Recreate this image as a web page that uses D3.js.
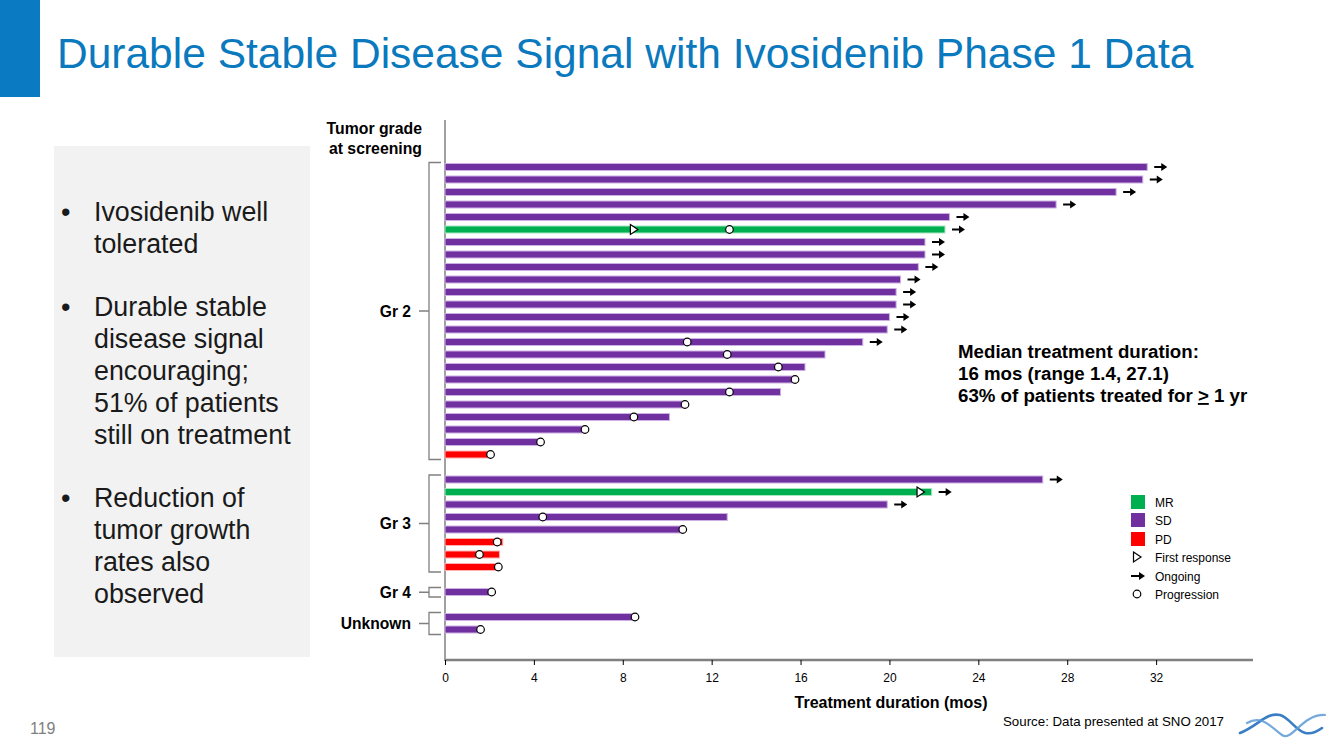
<!DOCTYPE html>
<html>
<head>
<meta charset="utf-8">
<script src="https://cdn.jsdelivr.net/npm/d3@7"></script>
<style>
  html, body { margin: 0; padding: 0; background: #fff; }
  svg { display: block; font-family: "Liberation Sans", Arial, sans-serif; }
</style>
</head>
<body>
<svg id="chart" width="1344" height="756"></svg>
<script>
// ---------------- DATA ----------------
const groups = ["Gr 2", "Gr 3", "Gr 4", "Unknown"];
const groupCounts = [24, 8, 1, 2];
const durations = [31.6, 31.4, 30.2, 27.5, 22.7, 22.5, 21.6, 21.6, 21.3, 20.5, 20.3, 20.3, 20.0, 19.9, 18.8, 17.1, 16.2, 15.8, 15.1, 10.8, 10.1, 6.3, 4.3, 2.0,
                   26.9, 21.9, 19.9, 12.7, 10.7, 2.6, 2.45, 2.45,
                   2.05,
                   8.55, 1.6];
const responses = ["SD","SD","SD","SD","SD","MR","SD","SD","SD","SD","SD","SD","SD","SD","SD","SD","SD","SD","SD","SD","SD","SD","SD","PD",
                   "SD","MR","SD","SD","SD","PD","PD","PD",
                   "SD",
                   "SD","SD"];
const firstResponse = [null,null,null,null,null,8.5,null,null,null,null,null,null,null,null,null,null,null,null,null,null,null,null,null,null,
                       null,21.4,null,null,null,null,null,null,
                       null,
                       null,null];
const ongoing = [1,1,1,1,1,1,1,1,1,1,1,1,1,1,1,0,0,0,0,0,0,0,0,0,
                 1,1,1,0,0,0,0,0,
                 0,
                 0,0];
const progression = [null,null,null,null,null,12.8,null,null,null,null,null,null,null,null,10.9,12.7,15.0,15.75,12.8,10.8,8.5,6.3,4.3,2.05,
                     null,null,null,4.4,10.7,2.35,1.55,2.4,
                     2.1,
                     8.55,1.6];
const xTicks = [0, 4, 8, 12, 16, 20, 24, 28, 32];
const legendItems = ["MR", "SD", "PD", "First response", "Ongoing", "Progression"];
const colors = { MR: "#00b050", SD: "#7030a0", PD: "#ff0000" };
const outline = { MR: "#a8e6c0", SD: "#cdb0e3", PD: "#ffb0b0" };

const bullets = [
  ["Ivosidenib well", "tolerated"],
  ["Durable stable", "disease signal", "encouraging;", "51% of patients", "still on treatment"],
  ["Reduction of", "tumor growth", "rates also", "observed"]
];
const medianLines = ["Median treatment duration:", "16 mos (range 1.4, 27.1)"];
const medianLine3 = ["63% of patients treated for ", ">", " 1 yr"];

// ---------------- BUILD ROWS ----------------
const rows = [];
const slots = [];
let k = 0;
groups.forEach((g, gi) => {
  for (let j = 0; j < groupCounts[gi]; j++) {
    const id = "r" + k;
    rows.push({ id, group: g, dur: durations[k], resp: responses[k], first: firstResponse[k], ongoing: ongoing[k], prog: progression[k] });
    slots.push(id);
    k++;
  }
  if (gi < groups.length - 1) slots.push("gap" + gi);
});

const svg = d3.select("#chart");
const font = '"Liberation Sans", Arial, sans-serif';

// ---------------- SLIDE CHROME ----------------
svg.append("rect").attr("x", 0).attr("y", 0).attr("width", 40).attr("height", 97).attr("fill", "#0a7bc2");
svg.append("text").attr("x", 57).attr("y", 68).attr("font-size", 42.5).attr("fill", "#0a79bd")
  .text("Durable Stable Disease Signal with Ivosidenib Phase 1 Data");

// left panel
svg.append("rect").attr("x", 54).attr("y", 146).attr("width", 256).attr("height", 511).attr("fill", "#f2f2f2");
const bulletStarts = [212, 307, 498];
bullets.forEach((lines, bi) => {
  svg.append("text").attr("x", 61).attr("y", bulletStarts[bi] + 9).attr("font-size", 27).attr("fill", "#1a1a1a").text("\u2022");
  lines.forEach((ln, li) => {
    svg.append("text").attr("x", 94).attr("y", bulletStarts[bi] + 9 + li * 32).attr("font-size", 26.8).attr("fill", "#1a1a1a").text(ln);
  });
});

svg.append("text").attr("x", 30).attr("y", 734).attr("font-size", 16).attr("fill", "#7f7f7f").text("119");
svg.append("text").attr("x", 1003).attr("y", 726).attr("font-size", 13.3).attr("fill", "#000").text("Source: Data presented at SNO 2017");

// logo
const logo = svg.append("g").attr("fill", "none").attr("stroke-linecap", "round");
logo.append("path").attr("d", "M1240,733 C1258,726 1266,712 1280,715 C1294,719 1300,744 1322,728")
  .attr("stroke", "#3a7fc4").attr("stroke-width", 2.6);
logo.append("path").attr("d", "M1247,723 C1262,714 1272,728 1282,735 C1292,742 1302,714 1325,715")
  .attr("stroke", "#5b9bd5").attr("stroke-width", 2.2).attr("opacity", 0.85);

// ---------------- SCALES ----------------
const x = d3.scaleLinear().domain([0, 36.36]).range([445, 1253]);
const y = d3.scalePoint().domain(slots).range([167, 629.5]);

// axes
svg.append("line").attr("x1", 445).attr("x2", 445).attr("y1", 120).attr("y2", 661)
  .attr("stroke", "#808080").attr("stroke-width", 1.5);

const xAxis = d3.axisBottom(x).tickValues(xTicks).tickSize(5).tickPadding(8).tickFormat(d3.format("d"));
const ax = svg.append("g").attr("transform", "translate(0,660)").call(xAxis);
ax.select(".domain").attr("stroke", "#808080").attr("stroke-width", 2.5).attr("d", `M${x(0)},0H${x(36.36)}`);
ax.selectAll(".tick line").attr("stroke", "#000").attr("stroke-width", 1);
ax.selectAll(".tick text").attr("font-size", 12).attr("font-family", font).attr("fill", "#000");

svg.append("text").attr("x", 891).attr("y", 708).attr("text-anchor", "middle").attr("font-size", 16)
  .attr("font-weight", "bold").text("Treatment duration (mos)");

// header "Tumor grade at screening"
svg.append("text").attr("x", 422).attr("y", 134).attr("text-anchor", "end").attr("font-size", 15.8).attr("font-weight", "bold").text("Tumor grade");
svg.append("text").attr("x", 422).attr("y", 154).attr("text-anchor", "end").attr("font-size", 15.8).attr("font-weight", "bold").text("at screening");

// brackets
groups.forEach(g => {
  const gr = rows.filter(r => r.group === g);
  const top = y(gr[0].id) - 4.5;
  const bot = y(gr[gr.length - 1].id) + 5;
  const mid = (top + bot) / 2;
  svg.append("path").attr("d", `M441,${top}H429V${bot}H441M429,${mid}H419`)
    .attr("fill", "none").attr("stroke", "#808080").attr("stroke-width", 1.3);
  svg.append("text").attr("x", 411).attr("y", mid + 5.5).attr("text-anchor", "end")
    .attr("font-size", 15.6).attr("font-weight", "bold").text(g);
});

// bars
const barH = 7;
svg.append("g").selectAll("rect").data(rows).join("rect")
  .attr("x", x(0))
  .attr("y", d => y(d.id) - barH / 2)
  .attr("width", d => x(d.dur) - x(0))
  .attr("height", barH)
  .attr("fill", d => colors[d.resp])
  .attr("stroke", d => outline[d.resp])
  .attr("stroke-width", 1);

// arrow helper
function arrow(g, x0, yy, len) {
  g.append("line").attr("x1", x0).attr("x2", x0 + len - 4).attr("y1", yy).attr("y2", yy)
    .attr("stroke", "#000").attr("stroke-width", 2);
  g.append("path").attr("d", `M${x0 + len - 6},${yy - 4}L${x0 + len},${yy}L${x0 + len - 6},${yy + 4}Z`).attr("fill", "#000");
}
function triangle(g, cx, cy) {
  g.append("path").attr("d", `M${cx - 3.5},${cy - 5}L${cx + 4},${cy}L${cx - 3.5},${cy + 5}Z`)
    .attr("fill", "#fff").attr("stroke", "#000").attr("stroke-width", 1.2);
}
function circle(g, cx, cy) {
  g.append("circle").attr("cx", cx).attr("cy", cy).attr("r", 3.8)
    .attr("fill", "#fff").attr("stroke", "#000").attr("stroke-width", 1.2);
}

const marks = svg.append("g");
rows.forEach(r => {
  const yy = y(r.id);
  if (r.ongoing) arrow(marks, x(r.dur) + 7, yy, 13);
  if (r.first != null) triangle(marks, x(r.first), yy);
  if (r.prog != null) circle(marks, x(r.prog), yy);
});

// median annotation
medianLines.forEach((t, i) => {
  svg.append("text").attr("x", 958).attr("y", 358 + i * 22).attr("font-size", 18.7).attr("font-weight", "bold").text(t);
});
const m3 = svg.append("text").attr("x", 958).attr("y", 402).attr("font-size", 18.7).attr("font-weight", "bold");
m3.append("tspan").text(medianLine3[0]);
m3.append("tspan").attr("text-decoration", "underline").text(medianLine3[1]);
m3.append("tspan").text(medianLine3[2]);

// legend
const lg = svg.append("g");
const legY = [502, 520, 539, 557, 576, 594];
legendItems.forEach((name, i) => {
  const cy = legY[i];
  if (i < 3) {
    lg.append("rect").attr("x", 1131).attr("y", cy - 7).attr("width", 14).attr("height", 14).attr("fill", colors[name]);
  } else if (name === "First response") {
    triangle(lg, 1137, cy);
  } else if (name === "Ongoing") {
    arrow(lg, 1131, cy, 14);
  } else {
    circle(lg, 1137, cy);
  }
  lg.append("text").attr("x", 1155).attr("y", cy + 4.5).attr("font-size", 12).text(name);
});
</script>
</body>
</html>
